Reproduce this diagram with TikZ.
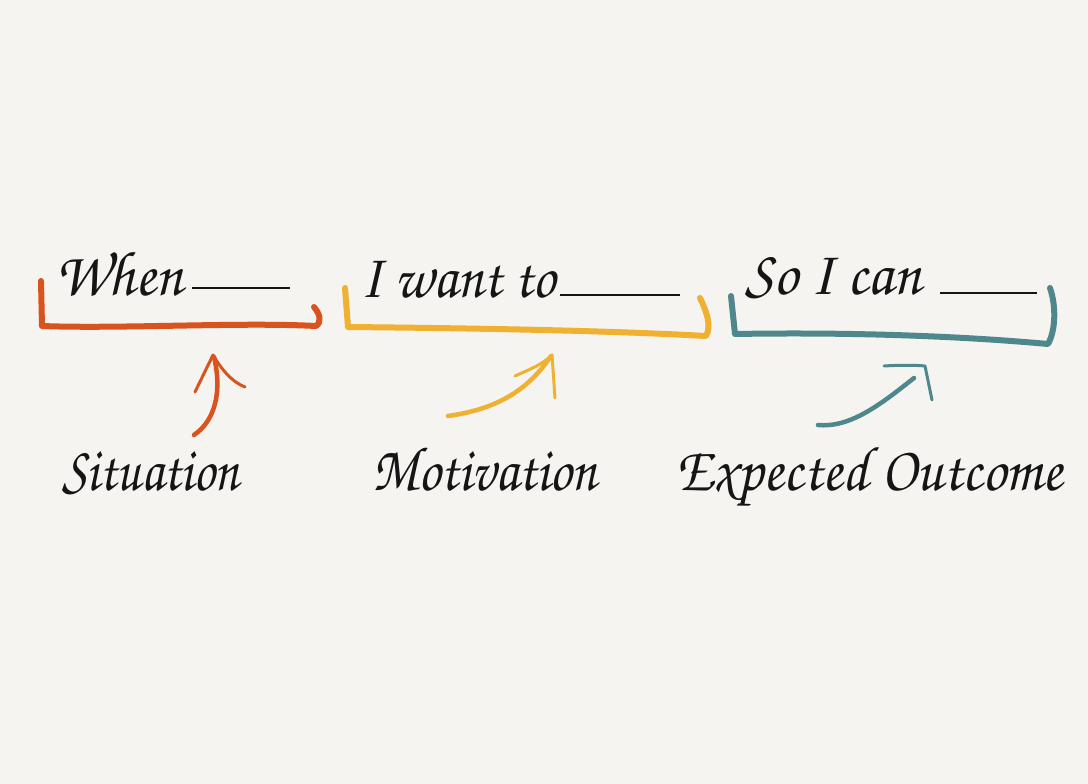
\documentclass[tikz,border=0pt]{standalone}
\usepackage[T1]{fontenc}
\usepackage{graphicx}
\definecolor{bg}{HTML}{F5F4F0}
\definecolor{cOrange}{HTML}{D9531E}
\definecolor{cYellow}{HTML}{F0B030}
\definecolor{cTeal}{HTML}{4E888D}
\definecolor{ink}{HTML}{151515}
\begin{document}
\begin{tikzpicture}[x=1pt,y=-1pt,
  hand/.style={font=\fontfamily{pzc}\fontsize{62}{70}\selectfont, text=ink, inner sep=0pt, anchor=base west},
  blank/.style={draw=ink, line width=1.6pt},
  brk/.style={line width=6pt, line cap=round, line join=round},
  arr/.style={line width=4.5pt, line cap=round, line join=round},
  head/.style={line width=3pt, line cap=round, line join=round}]
\fill[bg] (0,0) rectangle (1088,784);
\useasboundingbox (0,0) rectangle (1088,784);
% texts
\node[hand] (when) at (55,295) {\scalebox{0.97}[1.02]{When}};
\node[hand] (want) at (360,297) {\scalebox{0.92}[1.02]{I want to}};
\node[hand] (socan) at (745,294) {\scalebox{0.98}[1.02]{So I can}};
\node[hand] (sit) at (62,490) {\scalebox{0.86}[1.02]{Situation}};
\node[hand] (mot) at (372,490) {\scalebox{0.89}[1.02]{Motivation}};
\node[hand] (exp) at (676,490) {\scalebox{0.95}[1.02]{Expected Outcome}};
% blanks
\draw[blank] (192,288) -- (290,288);
\draw[blank] (560,295) -- (680,295);
\draw[blank] (940,293) -- (1037,293);
% brackets
\draw[brk, cOrange] (41,281) -- (42,326) .. controls (120,329) and (240,322) .. (316,326)
   .. controls (322,322) and (320,314) .. (314,307);
\draw[brk, cYellow] (345,288) -- (348,327) .. controls (450,328) and (600,330) .. (706,336)
   .. controls (712,326) and (706,310) .. (700,298);
\draw[brk, cTeal] (731,296) -- (735,334) .. controls (850,332) and (960,336) .. (1048,344)
   .. controls (1056,330) and (1056,305) .. (1050,288);
% arrows
\draw[arr, cOrange] (194,435) .. controls (216,420) and (222,390) .. (214,357);
\draw[head, cOrange] (195,392) -- (213,355) .. controls (222,370) and (232,382) .. (245,387);
\draw[arr, cYellow] (448,416) .. controls (490,410) and (525,395) .. (551,356);
\draw[head, cYellow] (515,376) .. controls (528,370) and (542,365) .. (552,355) -- (555,398);
\draw[arr, cTeal] (818,425) .. controls (850,428) and (880,405) .. (914,378);
\draw[head, cTeal] (884,366) .. controls (900,365) and (915,365) .. (925,366) -- (932,400);
\end{tikzpicture}
\end{document}
